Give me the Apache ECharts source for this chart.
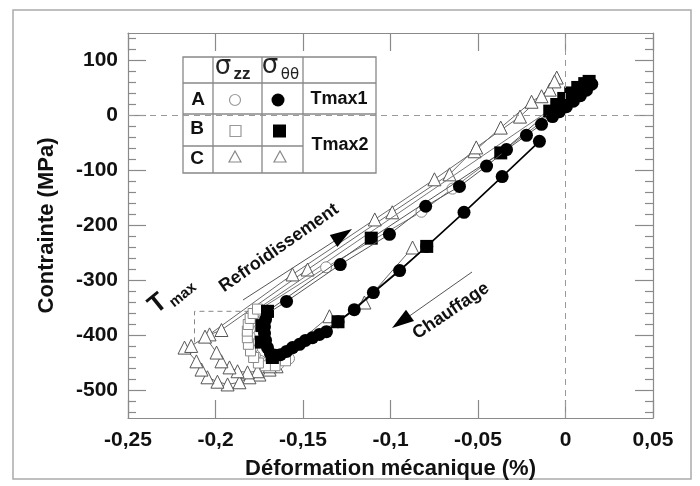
<!DOCTYPE html>
<html><head><meta charset="utf-8">
<script src="https://cdn.jsdelivr.net/npm/echarts@6/dist/echarts.min.js"></script>
<style>html,body{margin:0;padding:0;background:#fff}#c{width:700px;height:486px}</style>
</head><body><div id="c"></div>
<script>
// ---- tick values / labels ----
const xTicks = [-0.25, -0.2, -0.15, -0.1, -0.05, 0, 0.05];
const xTickLabels = ['-0,25', '-0,2', '-0,15', '-0,1', '-0,05', '0', '0,05'];
const yTicks = [-500, -400, -300, -200, -100, 0, 100];
const yTickLabels = ['-500', '-400', '-300', '-200', '-100', '0', '100'];
const yMinorTicks = [-540, -520, -480, -460, -440, -420, -380, -360, -340, -320, -280, -260, -240, -220,
  -180, -160, -140, -120, -80, -60, -40, -20, 20, 40, 60, 80, 120, 140];

// ---- data: [déformation (%), contrainte (MPa)] ----
// A, sigma_theta-theta (filled circles) : chauffage branch
const aThetaHeat = [
  [-0.0149, -47], [-0.0362, -111], [-0.0580, -176], [-0.0793, -238], [-0.0948, -282], [-0.1098, -322],
  [-0.1207, -353], [-0.1300, -375], [-0.1366, -393], [-0.1406, -398], [-0.1446, -404], [-0.1486, -409],
  [-0.1520, -416], [-0.1560, -422], [-0.1594, -429], [-0.1629, -435], [-0.1657, -436], [-0.1686, -433],
  [-0.1703, -422], [-0.1714, -409], [-0.1720, -396], [-0.1720, -384], [-0.1714, -371], [-0.1703, -360]
];
// A, sigma_theta-theta : refroidissement branch
const aThetaCool = [
  [-0.1703, -360], [-0.1594, -338], [-0.1287, -271], [-0.1006, -216], [-0.0799, -165], [-0.0606, -129],
  [-0.0451, -92], [-0.0337, -62], [-0.0223, -36], [-0.0137, -16], [-0.0074, -2], [-0.0035, 7],
  [0.0005, 16], [0.0045, 26], [0.0085, 36], [0.0120, 46], [0.0150, 57]
];
// B, sigma_theta-theta (filled squares)
const bTheta = [
  [-0.0793, -238], [-0.1300, -375], [-0.1675, -440], [-0.1738, -412], [-0.1735, -382], [-0.1703, -356],
  [-0.1110, -223], [-0.0370, -68], [-0.0090, 8], [-0.0050, 20], [-0.0010, 31], [0.0030, 41],
  [0.0070, 51], [0.0110, 58], [0.0135, 62]
];
// A, sigma_zz (open circles)
const aZz = [
  [-0.1580, -442], [-0.1640, -452], [-0.1700, -453], [-0.1745, -446], [-0.1775, -436], [-0.1792, -424],
  [-0.1802, -412], [-0.1806, -400], [-0.1804, -388], [-0.1798, -376], [-0.1785, -365], [-0.1765, -356],
  [-0.1368, -276], [-0.0823, -175], [-0.0646, -133], [0.0060, 35]
];
// B, sigma_zz (open squares)
const bZz = [
  [-0.1600, -446], [-0.1660, -455], [-0.1715, -455], [-0.1755, -450], [-0.1782, -440], [-0.1800, -428],
  [-0.1812, -416], [-0.1818, -404], [-0.1818, -392], [-0.1813, -380], [-0.1802, -369], [-0.1785, -360],
  [-0.1760, -352], [0.0040, 38]
];
// C (open triangles), outer loop
const cOuter = [
  [-0.0874, -240], [-0.1149, -340], [-0.1651, -456], [-0.1691, -462], [-0.1749, -471], [-0.1806, -476],
  [-0.1863, -485], [-0.1931, -489], [-0.1989, -484], [-0.2046, -476], [-0.2080, -462], [-0.2109, -447],
  [-0.2177, -422], [-0.2139, -419], [-0.2034, -398], [-0.1560, -289], [-0.1090, -189], [-0.0749, -116],
  [-0.0520, -65], [-0.0370, -22], [-0.0194, 25], [-0.0090, 47], [-0.0050, 69]
];
// C (open triangles), inner loop
const cInner = [
  [-0.1349, -365], [-0.1690, -456], [-0.1760, -465], [-0.1817, -467], [-0.1874, -465], [-0.1920, -458],
  [-0.1966, -447], [-0.1994, -431], [-0.2060, -402], [-0.1966, -390], [-0.1474, -280], [-0.0990, -176],
  [-0.0663, -107], [-0.0510, -58], [-0.0260, -2], [-0.0137, 35], [-0.0063, 62]
];
// T max envelope (dashed)
const tmaxEnvelope = [[-0.1806, -356], [-0.2120, -356], [-0.2120, -413]];

const FONT = "'Liberation Sans', Arial, Helvetica, sans-serif";
const AX = '#8a8a8a';

function lab(ticks, labels) {
  return function (v) {
    for (let i = 0; i < ticks.length; i++) if (Math.abs(v - ticks[i]) < 1e-9) return labels[i];
    return '';
  };
}

const chart = echarts.init(document.getElementById('c'), null, { renderer: 'canvas' });

function yAx(pos, custom, len, showLine, showLabel, extra) {
  return Object.assign({
    type: 'value', position: pos, min: -550, max: 150,
    axisLine: { show: showLine, onZero: false, lineStyle: { color: AX, width: 1.2 } },
    axisTick: { show: true, inside: true, length: len, customValues: custom, lineStyle: { color: AX, width: 1.2 } },
    axisLabel: { show: showLabel, customValues: yTicks, formatter: lab(yTicks, yTickLabels), margin: 10,
      fontSize: 21, fontWeight: 'bold', color: '#111', fontFamily: FONT },
    splitLine: { show: false }
  }, extra || {});
}

const option = {
  animation: false,
  backgroundColor: '#fff',
  grid: { left: 128, right: 47, top: 33, bottom: 68, containLabel: false },
  xAxis: [
    {
      type: 'value', position: 'bottom', min: -0.25, max: 0.05, interval: 0.05,
      axisLine: { onZero: false, lineStyle: { color: AX, width: 1.2 } },
      axisTick: { inside: true, length: 18, lineStyle: { color: AX, width: 1.2 } },
      axisLabel: { formatter: lab(xTicks, xTickLabels), margin: 12, fontSize: 21, fontWeight: 'bold', color: '#111', fontFamily: FONT,
        showMinLabel: true, showMaxLabel: true },
      splitLine: { show: false },
      name: 'Déformation mécanique (%)', nameLocation: 'middle', nameGap: 40,
      nameTextStyle: { fontSize: 22, fontWeight: 'bold', color: '#111', fontFamily: FONT }
    },
    {
      type: 'value', position: 'top', min: -0.25, max: 0.05, interval: 0.05,
      axisLine: { onZero: false, lineStyle: { color: AX, width: 1.2 } },
      axisTick: { inside: true, length: 18, lineStyle: { color: AX, width: 1.2 } },
      axisLabel: { show: false }, splitLine: { show: false }
    }
  ],
  yAxis: [
    yAx('left', yTicks, 18, true, true, {
      name: 'Contrainte (MPa)', nameLocation: 'middle', nameGap: 70,
      nameTextStyle: { fontSize: 22, fontWeight: 'bold', color: '#111', fontFamily: FONT }
    }),
    yAx('left', yMinorTicks, 8, false, false),
    yAx('right', yTicks, 18, true, false),
    yAx('right', yMinorTicks, 8, false, false)
  ],
  series: [
    {
      name: 'Tmax', type: 'line', data: tmaxEnvelope, symbol: 'none', z: 1,
      lineStyle: { color: '#888', width: 1, type: [5, 4] },
      markLine: {
        silent: true, symbol: 'none', label: { show: false },
        lineStyle: { color: '#999', width: 1, type: [6, 5] },
        data: [{ yAxis: 0 }, { xAxis: 0 }]
      }
    },
    {
      name: 'C ext', type: 'line', data: cOuter, symbol: 'triangle', symbolSize: 13, showSymbol: true, z: 2,
      itemStyle: { color: '#fff', borderColor: '#555', borderWidth: 1 },
      lineStyle: { color: '#6a6a6a', width: 1 }
    },
    {
      name: 'C int', type: 'line', data: cInner, symbol: 'triangle', symbolSize: 13, showSymbol: true, z: 2,
      itemStyle: { color: '#fff', borderColor: '#555', borderWidth: 1 },
      lineStyle: { color: '#6a6a6a', width: 1 }
    },
    {
      name: 'A zz', type: 'line', data: aZz, symbol: 'circle', symbolSize: 11, showSymbol: true, z: 3,
      itemStyle: { color: '#fff', borderColor: '#888', borderWidth: 1 },
      lineStyle: { color: '#777', width: 1 }
    },
    {
      name: 'B zz', type: 'line', data: bZz, symbol: 'rect', symbolSize: 10, showSymbol: true, z: 3,
      itemStyle: { color: '#fff', borderColor: '#888', borderWidth: 1 },
      lineStyle: { color: '#777', width: 1 }
    },
    {
      name: 'B tt', type: 'line', data: bTheta, symbol: 'rect', symbolSize: 13, showSymbol: true, z: 4,
      itemStyle: { color: '#000' },
      lineStyle: { color: '#555', width: 1 }
    },
    {
      name: 'A tt refroid', type: 'line', data: aThetaCool, symbol: 'circle', symbolSize: 13, showSymbol: true, z: 5,
      itemStyle: { color: '#000' },
      lineStyle: { color: '#555', width: 1 }
    },
    {
      name: 'A tt chauff', type: 'line', data: aThetaHeat, symbol: 'circle', symbolSize: 13, showSymbol: true, z: 5,
      itemStyle: { color: '#000' },
      lineStyle: { color: '#000', width: 1.6 }
    }
  ],
  graphic: [
    { type: 'rect', z: 0, silent: true, shape: { x: 13, y: 10, width: 678, height: 469 },
      style: { fill: 'none', stroke: '#aaa', lineWidth: 1.5 } },
    // legend table
    { type: 'group', z: 100, silent: true, children: [
      { type: 'rect', shape: { x: 183, y: 57, width: 193, height: 116 }, style: { fill: '#fff', stroke: '#888', lineWidth: 1.3 } },
      { type: 'line', shape: { x1: 213, y1: 57, x2: 213, y2: 173 }, style: { stroke: '#888', lineWidth: 1.3 } },
      { type: 'line', shape: { x1: 262, y1: 57, x2: 262, y2: 173 }, style: { stroke: '#888', lineWidth: 1.3 } },
      { type: 'line', shape: { x1: 303, y1: 57, x2: 303, y2: 173 }, style: { stroke: '#888', lineWidth: 1.3 } },
      { type: 'line', shape: { x1: 183, y1: 83, x2: 376, y2: 83 }, style: { stroke: '#888', lineWidth: 1.3 } },
      { type: 'line', shape: { x1: 183, y1: 114, x2: 376, y2: 114 }, style: { stroke: '#888', lineWidth: 1.3 } },
      { type: 'line', shape: { x1: 183, y1: 146, x2: 303, y2: 146 }, style: { stroke: '#888', lineWidth: 1.3 } },
      { type: 'text', x: 223, y: 67, style: { text: 'σ', fontSize: 26, fontFamily: "'DejaVu Sans', sans-serif", fill: '#222', align: 'center', verticalAlign: 'middle' } },
      { type: 'text', x: 242, y: 74, style: { text: 'zz', fontSize: 17, fontWeight: 'bold', fontFamily: FONT, fill: '#222', align: 'center', verticalAlign: 'middle' } },
      { type: 'text', x: 270, y: 66, style: { text: 'σ', fontSize: 26, fontFamily: "'DejaVu Sans', sans-serif", fill: '#222', align: 'center', verticalAlign: 'middle' } },
      { type: 'text', x: 290, y: 75, style: { text: 'θθ', fontSize: 15, fontFamily: "'DejaVu Sans', sans-serif", fill: '#222', align: 'center', verticalAlign: 'middle' } },
      { type: 'text', x: 198, y: 100, style: { text: 'A', fontSize: 19, fontWeight: 'bold', fontFamily: FONT, fill: '#111', align: 'center', verticalAlign: 'middle' } },
      { type: 'text', x: 197, y: 129, style: { text: 'B', fontSize: 19, fontWeight: 'bold', fontFamily: FONT, fill: '#111', align: 'center', verticalAlign: 'middle' } },
      { type: 'text', x: 197, y: 159, style: { text: 'C', fontSize: 19, fontWeight: 'bold', fontFamily: FONT, fill: '#111', align: 'center', verticalAlign: 'middle' } },
      { type: 'text', x: 339, y: 99, style: { text: 'Tmax1', fontSize: 18, fontWeight: 'bold', fontFamily: FONT, fill: '#111', align: 'center', verticalAlign: 'middle' } },
      { type: 'text', x: 340, y: 145, style: { text: 'Tmax2', fontSize: 18, fontWeight: 'bold', fontFamily: FONT, fill: '#111', align: 'center', verticalAlign: 'middle' } },
      { type: 'circle', shape: { cx: 235, cy: 100, r: 5.5 }, style: { fill: '#fff', stroke: '#999', lineWidth: 1.2 } },
      { type: 'circle', shape: { cx: 278, cy: 100, r: 6.5 }, style: { fill: '#000' } },
      { type: 'rect', shape: { x: 230, y: 125.5, width: 11, height: 11 }, style: { fill: '#fff', stroke: '#999', lineWidth: 1.2 } },
      { type: 'rect', shape: { x: 273, y: 124.5, width: 13, height: 13 }, style: { fill: '#000' } },
      { type: 'polygon', shape: { points: [[235, 151], [241, 162], [229, 162]] }, style: { fill: '#fff', stroke: '#888', lineWidth: 1.2 } },
      { type: 'polygon', shape: { points: [[280, 151], [286, 162], [274, 162]] }, style: { fill: '#fff', stroke: '#888', lineWidth: 1.2 } }
    ]},
    // annotations
    { type: 'text', z: 100, x: 158, y: 304, rotation: 0.68, style: { text: 'T', fontSize: 26, fontWeight: 'bold', fontFamily: FONT, fill: '#111', align: 'center', verticalAlign: 'middle' } },
    { type: 'text', z: 100, x: 183, y: 295, rotation: 0.68, style: { text: 'max', fontSize: 15, fontWeight: 'bold', fontFamily: FONT, fill: '#111', align: 'center', verticalAlign: 'middle' } },
    { type: 'text', z: 100, x: 279, y: 248, rotation: 0.61, style: { text: 'Refroidissement', fontSize: 18, fontWeight: 'bold', fontFamily: FONT, fill: '#111', align: 'center', verticalAlign: 'middle' } },
    { type: 'text', z: 100, x: 451, y: 311, rotation: 0.59, style: { text: 'Chauffage', fontSize: 18, fontWeight: 'bold', fontFamily: FONT, fill: '#111', align: 'center', verticalAlign: 'middle' } },
    { type: 'polyline', z: 90, shape: { points: [[243, 300], [336, 240]] }, style: { stroke: '#555', lineWidth: 1 } },
    { type: 'polygon', z: 90, shape: { points: [[352, 229], [337.4, 246.9], [329.8, 235.1]] }, style: { fill: '#000' } },
    { type: 'polyline', z: 90, shape: { points: [[472, 272], [408, 317]] }, style: { stroke: '#555', lineWidth: 1 } },
    { type: 'polygon', z: 90, shape: { points: [[392, 328], [414, 321.1], [406, 309.7]] }, style: { fill: '#000' } }
  ]
};
chart.setOption(option);
</script>
</body></html>
